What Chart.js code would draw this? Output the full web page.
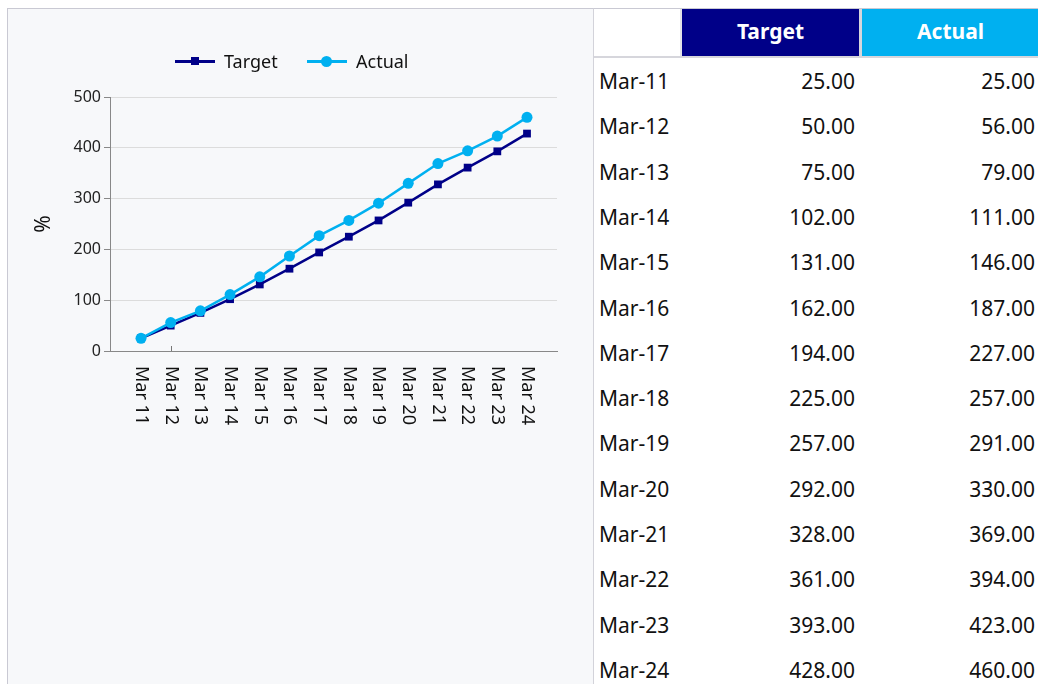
<!DOCTYPE html>
<html>
<head>
<meta charset="utf-8">
<script src="https://cdn.jsdelivr.net/npm/chart.js@4.4.1/dist/chart.umd.min.js"></script>
<style>
  html, body { margin:0; padding:0; background:#ffffff; width:1038px; height:684px; overflow:hidden; font-family:"Noto Sans", sans-serif; }
  #panel { position:absolute; left:7px; top:8px; width:585px; height:700px; background:#f7f8fa; border:1px solid #c9c9d3; }
  #chartCanvas { position:absolute; left:0; top:0; }
  #legend { position:absolute; left:0; top:0; width:593px; height:80px; pointer-events:none; }
  .lg-line { position:absolute; height:3px; top:60px; }
  .lg-mark { position:absolute; }
  .lg-text { position:absolute; top:49px; font-size:18px; color:#111; line-height:24px; }
  #table { position:absolute; left:593px; top:8px; width:445px; height:676px; border-left:1px solid #d3d3da; border-top:1px solid #c9c9d3; background:#fff; }
  .hcell { position:absolute; top:0px; height:47px; line-height:44px; text-align:center; color:#fff; font-weight:bold; font-size:21px; }
  .cell { position:absolute; font-size:21px; color:#111; line-height:24px; }
</style>
</head>
<body>
<div id="panel"></div>
<canvas id="chartCanvas" width="593" height="684"></canvas>
<div id="legend"></div>
<div id="table"></div>
<script>
const categories = ["Mar 11","Mar 12","Mar 13","Mar 14","Mar 15","Mar 16","Mar 17","Mar 18","Mar 19","Mar 20","Mar 21","Mar 22","Mar 23","Mar 24"];
const rowLabels = ["Mar-11","Mar-12","Mar-13","Mar-14","Mar-15","Mar-16","Mar-17","Mar-18","Mar-19","Mar-20","Mar-21","Mar-22","Mar-23","Mar-24"];
const targetValues = [25, 50, 75, 102, 131, 162, 194, 225, 257, 292, 328, 361, 393, 428];
const actualValues = [25, 56, 79, 111, 146, 187, 227, 257, 291, 330, 369, 394, 423, 460];
const yTicks = [0, 100, 200, 300, 400, 500];
const seriesNames = ["Target", "Actual"];

const TARGET_COLOR = "#000088";
const ACTUAL_COLOR = "#00b0f0";

// Legend (HTML)
const legend = document.getElementById("legend");
legend.innerHTML =
  '<div class="lg-line" style="left:175px;width:40px;background:' + TARGET_COLOR + '"></div>' +
  '<div class="lg-mark" style="left:191px;top:57px;width:8px;height:8px;background:' + TARGET_COLOR + '"></div>' +
  '<div class="lg-text" style="left:224px">' + seriesNames[0] + '</div>' +
  '<div class="lg-line" style="left:307px;width:40px;background:' + ACTUAL_COLOR + '"></div>' +
  '<div class="lg-mark" style="left:321px;top:56px;width:11px;height:11px;border-radius:50%;background:' + ACTUAL_COLOR + '"></div>' +
  '<div class="lg-text" style="left:356px">' + seriesNames[1] + '</div>';

// Table (HTML)
const table = document.getElementById("table");
let html = '';
html += '<div class="hcell" style="left:0;width:86px;background:#fff"></div>';
html += '<div style="position:absolute;left:86px;top:0;width:2px;height:47px;background:#e3e3e8"></div>';
html += '<div class="hcell" style="left:88px;width:177px;background:' + TARGET_COLOR + '">' + seriesNames[0] + '</div>';
html += '<div style="position:absolute;left:265px;top:0;width:3px;height:47px;background:#d6d6dc"></div>';
html += '<div class="hcell" style="left:268px;width:177px;background:' + ACTUAL_COLOR + '">' + seriesNames[1] + '</div>';
html += '<div style="position:absolute;left:0;top:47px;width:445px;height:2px;background:#d6d6dc"></div>';
for (let i = 0; i < rowLabels.length; i++) {
  const cy = 72 + i * 45.3;
  const top = Math.round(cy - 12);
  html += '<div class="cell" style="left:5px;top:' + top + 'px">' + rowLabels[i] + '</div>';
  html += '<div class="cell" style="right:184px;top:' + top + 'px;text-align:right">' + targetValues[i].toFixed(2) + '</div>';
  html += '<div class="cell" style="right:4px;top:' + top + 'px;text-align:right">' + actualValues[i].toFixed(2) + '</div>';
}
table.innerHTML = html;

// Chart
const xLabelPlugin = {
  id: 'xLabels',
  afterDraw(chart) {
    const ctx = chart.ctx;
    const xs = chart.scales.x;
    const area = chart.chartArea;
    ctx.save();
    ctx.font = '18px "Noto Sans"';
    ctx.fillStyle = '#111';
    ctx.textAlign = 'left';
    ctx.textBaseline = 'middle';
    categories.forEach((c, i) => {
      const px = xs.getPixelForValue(i);
      ctx.save();
      ctx.translate(px, area.bottom + 15);
      ctx.rotate(Math.PI / 2);
      ctx.fillText(c, 0, 0);
      ctx.restore();
    });
    // single tick mark seen at second category
    const tx = Math.round(xs.getPixelForValue(1)) + 0.5;
    ctx.strokeStyle = '#777';
    ctx.lineWidth = 1;
    ctx.beginPath();
    ctx.moveTo(tx, area.bottom);
    ctx.lineTo(tx, area.bottom - 5);
    ctx.stroke();
    ctx.restore();
  }
};

new Chart(document.getElementById('chartCanvas'), {
  type: 'line',
  data: {
    datasets: [
      {
        label: seriesNames[0],
        data: targetValues.map((v, i) => ({ x: i, y: v })),
        borderColor: TARGET_COLOR,
        backgroundColor: TARGET_COLOR,
        borderWidth: 2.5,
        pointStyle: 'rect',
        pointRadius: 5.5,
        pointBorderWidth: 0,
        tension: 0,
        order: 1
      },
      {
        label: seriesNames[1],
        data: actualValues.map((v, i) => ({ x: i, y: v })),
        borderColor: ACTUAL_COLOR,
        backgroundColor: ACTUAL_COLOR,
        borderWidth: 2.5,
        pointStyle: 'circle',
        pointRadius: 5.5,
        pointBorderWidth: 0,
        tension: 0,
        order: 0
      }
    ]
  },
  options: {
    responsive: false,
    animation: false,
    devicePixelRatio: 1,
    layout: { padding: { left: 27, top: 97, right: 36, bottom: 333 } },
    plugins: { legend: { display: false }, tooltip: { enabled: false } },
    scales: {
      x: {
        type: 'linear',
        min: -1.044,
        max: 14.01,
        grid: { display: false },
        ticks: { display: false },
        border: { display: true, color: '#888', width: 1 },
        afterFit(s) { s.height = 0; }
      },
      y: {
        min: 0,
        max: 500,
        afterBuildTicks(s) { s.ticks = yTicks.map(v => ({ value: v })); },
        ticks: { font: { family: 'Noto Sans', size: 16 }, color: '#222', padding: 3 },
        grid: { color: '#dcdcdc', tickColor: '#888', tickLength: 6, lineWidth: 1 },
        border: { display: true, color: '#888', width: 1 },
        title: { display: true, text: '%', font: { family: 'Noto Sans', size: 21 }, color: '#111', padding: 4 },
        afterFit(s) { s.width = 83; }
      }
    }
  },
  plugins: [xLabelPlugin]
});
</script>
</body>
</html>
